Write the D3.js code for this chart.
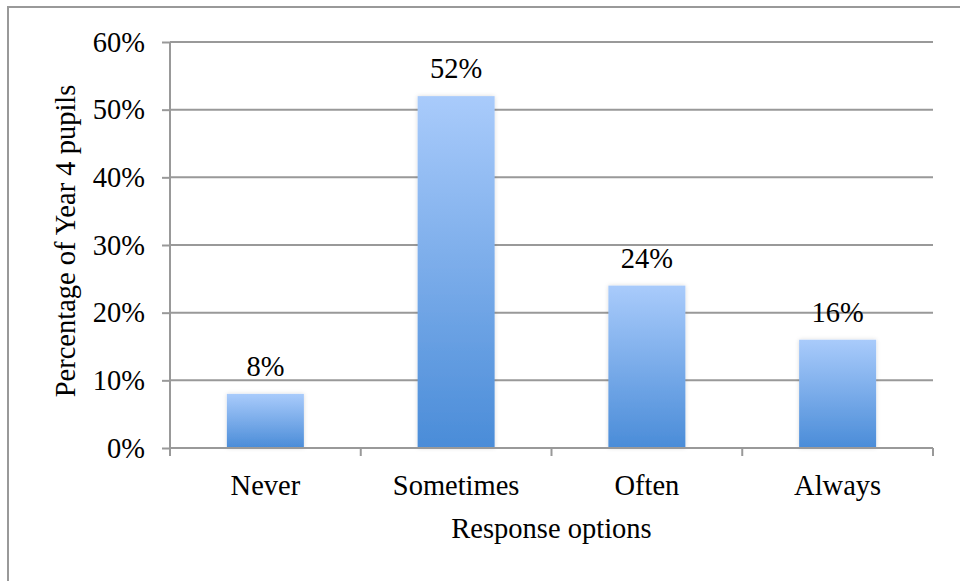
<!DOCTYPE html>
<html>
<head>
<meta charset="utf-8">
<script src="https://cdn.jsdelivr.net/npm/d3@7"></script>
<style>
  body { margin: 0; background: #fff; }
  svg { display: block; }
  svg text { font-family: "Liberation Serif", "Times New Roman", serif; }
</style>
</head>
<body>
<svg id="chart" width="960" height="581"></svg>
<script>
// Дані
const categories = ["Never", "Sometimes", "Often", "Always"];
const values = [0.08, 0.52, 0.24, 0.16];
const yTicks = [0, 0.1, 0.2, 0.3, 0.4, 0.5, 0.6];

const svg = d3.select("#chart");
const width = 960, height = 581;
const margin = { top: 42, right: 27, bottom: 133, left: 170 };
const fontSize = 28.5;

// Рамка
svg.append("rect")
    .attr("x", 8).attr("y", 7)
    .attr("width", 1000).attr("height", 1000)
    .attr("fill", "none")
    .attr("stroke", "#999")
    .attr("stroke-width", 2);

// Градієнт
const defs = svg.append("defs");
const grad = defs.append("linearGradient")
    .attr("id", "barGrad")
    .attr("x1", 0).attr("y1", 0).attr("x2", 0).attr("y2", 1);
grad.append("stop").attr("offset", "0%").attr("stop-color", "#a9cbfb");
grad.append("stop").attr("offset", "100%").attr("stop-color", "#4a8cd8");

const filter = defs.append("filter")
    .attr("id", "shadow").attr("x", "-20%").attr("y", "-20%")
    .attr("width", "140%").attr("height", "140%");
filter.append("feDropShadow")
    .attr("dx", 0).attr("dy", 0).attr("stdDeviation", 2)
    .attr("flood-color", "#000").attr("flood-opacity", 0.15);

const x = d3.scaleBand()
    .domain(categories)
    .range([margin.left, width - margin.right]);

const y = d3.scaleLinear()
    .domain([0, 0.6])
    .range([height - margin.bottom, margin.top]);

const x0 = margin.left, x1 = width - margin.right;
const barW = 77;

// Сітка
svg.append("g")
    .selectAll("line")
    .data(yTicks.filter(d => d > 0))
    .join("line")
    .attr("x1", x0).attr("x2", x1)
    .attr("y1", d => y(d)).attr("y2", d => y(d))
    .attr("stroke", "#999").attr("stroke-width", 2);

// Вісь Y
const yAxis = svg.append("g")
    .attr("transform", `translate(${x0},0)`)
    .attr("font-family", null)
    .call(d3.axisLeft(y).tickValues(yTicks).tickFormat(d3.format(".0%")).tickSize(8).tickPadding(17));
yAxis.attr("font-family", null).attr("font-size", null);
yAxis.select(".domain").remove();
yAxis.selectAll(".tick line").attr("stroke", "#999").attr("stroke-width", 2);
yAxis.selectAll(".tick text")
    .attr("font-size", fontSize).attr("fill", "#000");
svg.append("line")
    .attr("x1", x0).attr("x2", x0)
    .attr("y1", y(0.6)).attr("y2", y(0) + 8)
    .attr("stroke", "#999").attr("stroke-width", 2);

// Стовпці
svg.append("g")
    .selectAll("rect")
    .data(values)
    .join("rect")
    .attr("x", (d, i) => x(categories[i]) + x.bandwidth() / 2 - barW / 2)
    .attr("width", barW)
    .attr("y", d => y(d))
    .attr("height", d => y(0) - y(d))
    .attr("fill", "url(#barGrad)")
    .attr("filter", "url(#shadow)");

// Вісь X
svg.append("line")
    .attr("x1", x0).attr("x2", x1)
    .attr("y1", y(0)).attr("y2", y(0))
    .attr("stroke", "#999").attr("stroke-width", 2);
const boundaries = categories.map(c => x(c)).concat([x1]);
svg.append("g")
    .selectAll("line")
    .data(boundaries)
    .join("line")
    .attr("x1", d => d).attr("x2", d => d)
    .attr("y1", y(0)).attr("y2", y(0) + 8)
    .attr("stroke", "#999").attr("stroke-width", 2);

svg.append("g")
    .selectAll("text")
    .data(categories)
    .join("text")
    .attr("x", d => x(d) + x.bandwidth() / 2)
    .attr("y", y(0) + 47)
    .attr("text-anchor", "middle")
    .attr("font-size", fontSize)
    .text(d => d);

// Підписи значень
svg.append("g")
    .selectAll("text")
    .data(values)
    .join("text")
    .attr("x", (d, i) => x(categories[i]) + x.bandwidth() / 2)
    .attr("y", d => y(d) - 18)
    .attr("text-anchor", "middle")
    .attr("font-size", fontSize)
    .text(d => d3.format(".0%")(d));

// Назви осей
svg.append("text")
    .attr("x", (x0 + x1) / 2)
    .attr("y", 538)
    .attr("text-anchor", "middle")
    .attr("font-size", fontSize)
    .text("Response options");

svg.append("text")
    .attr("transform", "translate(75,241) rotate(-90)")
    .attr("text-anchor", "middle")
    .attr("font-size", fontSize)
    .text("Percentage of Year 4 pupils");
</script>
</body>
</html>
